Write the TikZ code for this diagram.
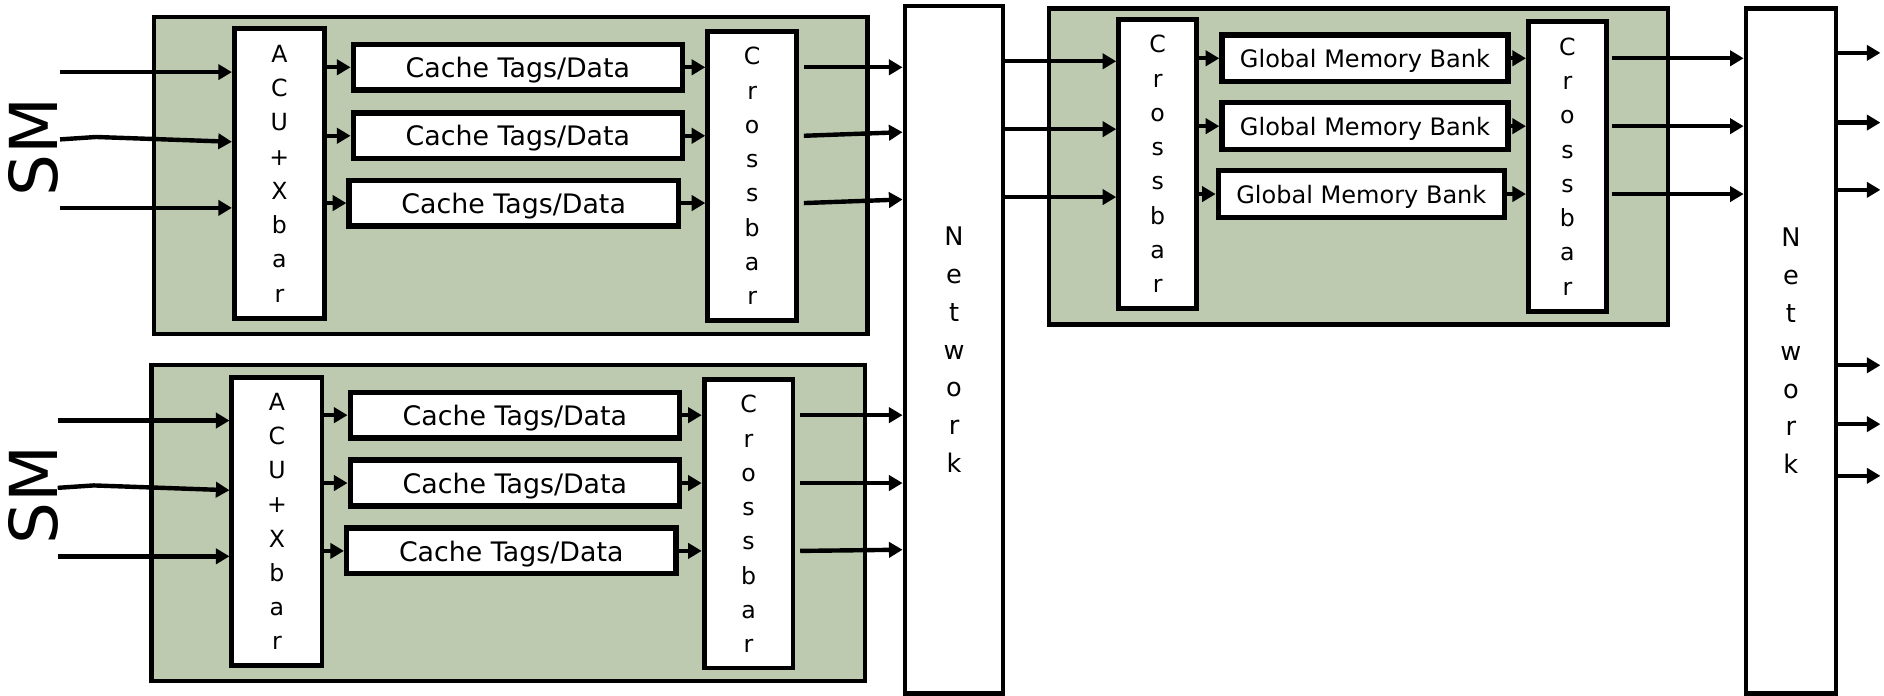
\documentclass[tikz,border=0pt]{standalone}
\usepackage{fontspec}
\setmainfont{DejaVu Sans}
\usetikzlibrary{
  arrows.meta,
  positioning
}
\definecolor{sage}{RGB}{189,202,176}
\newcommand{\pxl}{0.6pt}
\tikzset{
  dims/.style 2 args={
    minimum width=#1*\pxl, minimum height=#2*\pxl
  },
  unit box/.style={
    draw, line width=2.2pt, fill=sage, inner sep=0pt
  },
  tall box/.style={
    draw, line width=2.4pt, fill=white, inner sep=0pt,
    align=center, font=\fontsize{11.8}{17.1}\selectfont
  },
  net box/.style={
    draw, line width=2.2pt, fill=white, inner sep=0pt,
    align=center, font=\fontsize{12.8}{18.9}\selectfont
  },
  cache box/.style={
    draw, line width=2.7pt, fill=white, inner sep=0pt,
    text depth=0pt, font=\fontsize{13.4}{16}\selectfont
  },
  bank box/.style={
    draw, line width=2.7pt, fill=white, inner sep=0pt,
    text depth=0pt, font=\fontsize{12}{14}\selectfont
  },
  link/.style={
    -{Triangle[length=6.8pt, width=7.6pt]}, line width=2.2pt
  },
  sm label/.style={
    rotate=90, font=\fontsize{33}{36}\selectfont
  },
}

\begin{document}
\begin{tikzpicture}[x=0.6pt, y=-0.6pt]
  \useasboundingbox (0,0) rectangle (1568,579);

  % SM units (left column)
  \node[unit box, dims={594}{264}] (G1) at (425,146) {};
  \node[unit box, dims={594}{263}] (G2) at (423,435.5) {};
  \node[sm label] (SM1) at (28,122) {SM};
  \node[sm label] (SM2) at (28,412) {SM};

  % Top unit
  \node[tall box, dims={75}{241}] (ACU1) at (232.5,144.5) {A\\C\\U\\+\\X\\b\\a\\r};
  \node[cache box, dims={274}{38}] (C1a) at (431,56) {Cache Tags/Data};
  \node[cache box, dims={274}{38}] (C1b) at (431,113) {Cache Tags/Data};
  \node[cache box, dims={274}{38}] (C1c) at (427.5,169) {Cache Tags/Data};
  \node[tall box, dims={74}{241}] (XB1) at (626,146.5) {C\\r\\o\\s\\s\\b\\a\\r};

  % Bottom unit
  \node[tall box, dims={75}{240}] (ACU2) at (230.5,434) {A\\C\\U\\+\\X\\b\\a\\r};
  \node[cache box, dims={274}{38}] (C2a) at (428.5,345.5) {Cache Tags/Data};
  \node[cache box, dims={274}{38}] (C2b) at (428.5,402) {Cache Tags/Data};
  \node[cache box, dims={274}{38}] (C2c) at (425.5,458.5) {Cache Tags/Data};
  \node[tall box, dims={74}{240}] (XB2) at (623,436) {C\\r\\o\\s\\s\\b\\a\\r};

  % Networks
  \node[net box, dims={82}{572}] (NET1) at (794,291) {N\\e\\t\\w\\o\\r\\k};
  \node[net box, dims={75}{570}] (NET2) at (1490.5,292) {N\\e\\t\\w\\o\\r\\k};

  % Memory unit
  \node[unit box, dims={515}{263}] (G3) at (1130.5,138.5) {};
  \node[tall box, dims={65}{241}] (XB3) at (963.5,136.5) {C\\r\\o\\s\\s\\b\\a\\r};
  \node[bank box, dims={238}{39}] (M1) at (1136,48.5) {Global Memory Bank};
  \node[bank box, dims={238}{39}] (M2) at (1136,105) {Global Memory Bank};
  \node[bank box, dims={238}{39}] (M3) at (1133,161.5) {Global Memory Bank};
  \node[tall box, dims={65}{241}] (XB4) at (1304.5,138.5) {C\\r\\o\\s\\s\\b\\a\\r};

  % Inputs from the SMs
  \coordinate (in1a) at (50,60);
  \coordinate (in1b) at (50,116);
  \coordinate (in1c) at (50,173);
  \coordinate (in2a) at (48,350);
  \coordinate (in2b) at (48,406);
  \coordinate (in2c) at (48,463);
  \draw[link] (in1a) -- (ACU1.west |- in1a);
  \draw[link] (in1b) -- ++(30,-2) -- ([yshift=-1.2pt]ACU1.west |- in1b);
  \draw[link] (in1c) -- (ACU1.west |- in1c);
  \draw[link] (in2a) -- (ACU2.west |- in2a);
  \draw[link] (in2b) -- ++(30,-2) -- ([yshift=-1.2pt]ACU2.west |- in2b);
  \draw[link] (in2c) -- (ACU2.west |- in2c);

  % ACU+Xbar -> caches -> crossbar
  \draw[link] (ACU1.east |- C1a) -- (C1a.west);
  \draw[link] (ACU1.east |- C1b) -- (C1b.west);
  \draw[link] (ACU1.east |- C1c) -- (C1c.west);
  \draw[link] (C1a.east) -- (XB1.west |- C1a);
  \draw[link] (C1b.east) -- (XB1.west |- C1b);
  \draw[link] (C1c.east) -- (XB1.west |- C1c);
  \draw[link] (ACU2.east |- C2a) -- (C2a.west);
  \draw[link] (ACU2.east |- C2b) -- (C2b.west);
  \draw[link] (ACU2.east |- C2c) -- (C2c.west);
  \draw[link] (C2a.east) -- (XB2.west |- C2a);
  \draw[link] (C2b.east) -- (XB2.west |- C2b);
  \draw[link] (C2c.east) -- (XB2.west |- C2c);

  % Crossbars -> network
  \draw[link] ([xshift=2.4pt]XB1.east |- C1a) -- (NET1.west |- C1a);
  \draw[link] ([xshift=2.4pt]XB1.east |- C1b) -- ([yshift=1.8pt]NET1.west |- C1b);
  \draw[link] ([xshift=2.4pt]XB1.east |- C1c) -- ([yshift=1.8pt]NET1.west |- C1c);
  \draw[link] ([xshift=2.4pt]XB2.east |- C2a) -- (NET1.west |- C2a);
  \draw[link] ([xshift=2.4pt]XB2.east |- C2b) -- (NET1.west |- C2b);
  \draw[link] ([xshift=2.4pt]XB2.east |- C2c) -- ([yshift=0.6pt]NET1.west |- C2c);

  % Network -> memory banks -> network
  \draw[link] ([yshift=-1.5pt]NET1.east |- M1) -- ([yshift=-1.5pt]XB3.west |- M1);
  \draw[link] ([yshift=-1.5pt]NET1.east |- M2) -- ([yshift=-1.5pt]XB3.west |- M2);
  \draw[link] ([yshift=-1.5pt]NET1.east |- M3) -- ([yshift=-1.5pt]XB3.west |- M3);
  \draw[link] (XB3.east |- M1) -- (M1.west);
  \draw[link] (XB3.east |- M2) -- (M2.west);
  \draw[link] (XB3.east |- M3) -- (M3.west);
  \draw[link] (M1.east) -- (XB4.west |- M1);
  \draw[link] (M2.east) -- (XB4.west |- M2);
  \draw[link] (M3.east) -- (XB4.west |- M3);
  \draw[link] ([xshift=1.8pt]XB4.east |- M1) -- (NET2.west |- M1);
  \draw[link] ([xshift=1.8pt]XB4.east |- M2) -- (NET2.west |- M2);
  \draw[link] ([xshift=1.8pt]XB4.east |- M3) -- (NET2.west |- M3);

  % Outputs
  \coordinate (out1) at (1565,44);
  \coordinate (out2) at (1565,102);
  \coordinate (out3) at (1565,158);
  \coordinate (out4) at (1565,304);
  \coordinate (out5) at (1565,353);
  \coordinate (out6) at (1565,396);
  \draw[link] (NET2.east |- out1) -- (out1);
  \draw[link] (NET2.east |- out2) -- (out2);
  \draw[link] (NET2.east |- out3) -- (out3);
  \draw[link] (NET2.east |- out4) -- (out4);
  \draw[link] (NET2.east |- out5) -- (out5);
  \draw[link] (NET2.east |- out6) -- (out6);

\end{tikzpicture}
\end{document}
